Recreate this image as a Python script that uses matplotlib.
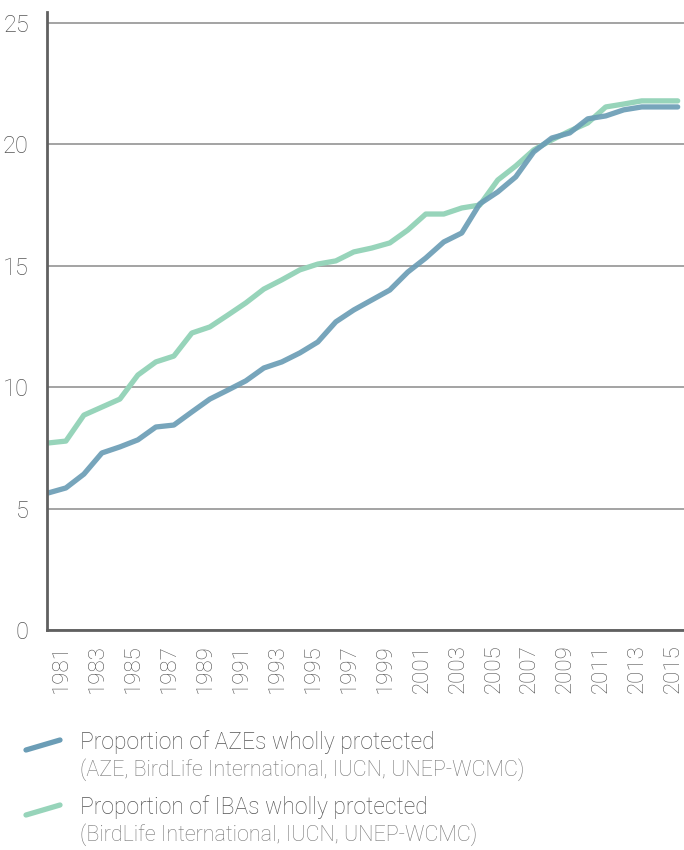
import matplotlib
matplotlib.use("Agg")
import matplotlib.pyplot as plt
from matplotlib.lines import Line2D
from matplotlib.transforms import ScaledTranslation

plt.rcParams['font.family'] = ['Roboto', 'DejaVu Sans']
plt.rcParams['font.weight'] = 'light'

# Data
years = list(range(1980, 2016))
aze = [5.64, 5.85, 6.42, 7.29, 7.54, 7.83, 8.36, 8.44, 8.98, 9.51,
       9.88, 10.26, 10.79, 11.04, 11.41, 11.86, 12.69, 13.18, 13.59, 14.00,
       14.74, 15.32, 15.98, 16.35, 17.55, 18.04, 18.66, 19.69, 20.26, 20.47,
       21.05, 21.17, 21.42, 21.54, 21.54, 21.54]
iba = [7.70, 7.78, 8.85, 9.18, 9.51, 10.50, 11.04, 11.28, 12.23, 12.48,
       12.97, 13.47, 14.04, 14.42, 14.83, 15.07, 15.20, 15.57, 15.73, 15.94,
       16.47, 17.13, 17.13, 17.38, 17.50, 18.53, 19.11, 19.77, 20.18, 20.55,
       20.88, 21.54, 21.66, 21.79, 21.79, 21.79]
tick_years = list(range(1981, 2016, 2))
y_ticks = [0, 5, 10, 15, 20, 25]

legend_titles = ['Proportion of AZEs wholly protected',
                 'Proportion of IBAs wholly protected']
legend_sources = ['(AZE, BirdLife International, IUCN, UNEP-WCMC)',
                  '(BirdLife International, IUCN, UNEP-WCMC)']

blue = '#6b9db6'
green = '#97d4ba'
text_col = '#555555'

W, H = 684, 850
fig = plt.figure(figsize=(W / 100, H / 100), dpi=100)
ax = fig.add_axes([47 / W, 1 - 630 / H, (W - 47) / W, (630 - 12) / H])

ax.plot(years, iba, color=green, lw=3.8, solid_capstyle='round', solid_joinstyle='round')
ax.plot(years, aze, color=blue, lw=3.8, alpha=0.92, solid_capstyle='round', solid_joinstyle='round')

ax.set_xlim(1979.95, 2015.35)
ax.set_ylim(0, 25.45)
ax.set_yticks(y_ticks)
ax.set_xticks(tick_years)
ax.set_xticklabels([str(y) for y in tick_years], rotation=90)
ax.grid(axis='y', color='#8a8a8a', lw=1.1)
ax.set_axisbelow(True)
ax.tick_params(axis='both', length=0, colors=text_col)
ax.tick_params(axis='x', pad=10, labelsize=16)
ax.tick_params(axis='y', pad=13, labelsize=17)
shift = ScaledTranslation(-4 / 100, 0, fig.dpi_scale_trans)
for lab in ax.get_xticklabels():
    lab.set_transform(lab.get_transform() + shift)
for s in ['top', 'right']:
    ax.spines[s].set_visible(False)
for s in ['left', 'bottom']:
    ax.spines[s].set_color('#606060')
    ax.spines[s].set_linewidth(2)

# legend drawn by hand
entries = [(blue, 745), (green, 810)]
for (col, yc), title, src in zip(entries, legend_titles, legend_sources):
    fig.add_artist(Line2D([26 / W, 60 / W], [1 - (yc + 5) / H, 1 - (yc - 5) / H],
                          color=col, lw=3.8, solid_capstyle='round'))
    fig.text(80 / W, 1 - (yc - 3) / H, title, fontsize=16.5, color=text_col,
             va='center', ha='left')
    fig.text(80 / W, 1 - (yc + 25) / H, src, fontsize=15.5, color='#777777',
             va='center', ha='left')

fig.savefig('out.png', dpi=100)
